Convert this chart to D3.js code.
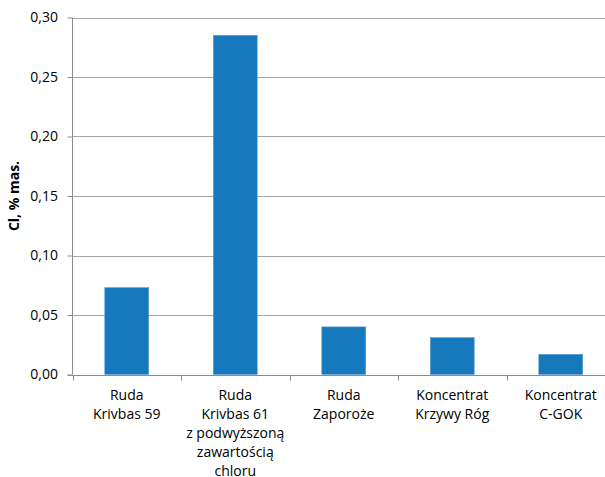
<!DOCTYPE html>
<html>
<head>
<meta charset="utf-8">
<script src="https://cdn.jsdelivr.net/npm/d3@7"></script>
<style>
  body { margin: 0; background: #fff; }
  text { font-family: "Open Sans", sans-serif; fill: #000; }
</style>
</head>
<body>
<div id="chart"></div>
<script>
'use strict'

// dane
const categories = [
    ["Ruda", "Krivbas 59"],
    ["Ruda", "Krivbas 61", "z podwyższoną", "zawartością", "chloru"],
    ["Ruda", "Zaporoże"],
    ["Koncentrat", "Krzywy Róg"],
    ["Koncentrat", "C-GOK"]
];
const values = [0.073, 0.285, 0.040, 0.031, 0.017];
const yTicks = [0, 0.05, 0.10, 0.15, 0.20, 0.25, 0.30];
const yTitle = "Cl, % mas.";

const width = 605;
const height = 477;
const mLeft = 72.5, mRight = 615, mTop = 17.5, mBottom = 374.5;

const svg = d3.select("#chart")
    .append("svg")
    .attr("width", width)
    .attr("height", height);

const xScale = d3.scaleBand()
    .domain(d3.range(categories.length))
    .range([mLeft, mRight])
    .padding(0);

const yScale = d3.scaleLinear()
    .domain([0, 0.30])
    .range([mBottom, mTop]);

// linie siatki
svg.append("g")
    .selectAll("line")
    .data(yTicks.slice(1))
    .enter()
    .append("line")
    .attr("x1", mLeft)
    .attr("x2", mRight)
    .attr("y1", d => Math.round(yScale(d)) + 0.5)
    .attr("y2", d => Math.round(yScale(d)) + 0.5)
    .attr("stroke", "#a6a6a6")
    .attr("stroke-width", 1);

// słupki
const barW = xScale.bandwidth() * 0.405;
svg.append("g")
    .selectAll("rect")
    .data(values)
    .enter()
    .append("rect")
    .attr("x", (d, i) => xScale(i) + xScale.bandwidth() / 2 - barW / 2)
    .attr("y", d => yScale(d))
    .attr("width", barW)
    .attr("height", d => yScale(0) - yScale(d))
    .attr("fill", "#1679bd")
    .attr("stroke", "#5f9fd1")
    .attr("stroke-width", 0.6);

// oś Y
const yAxis = svg.append("g")
    .attr("transform", `translate(${mLeft},0)`)
    .call(d3.axisLeft(yScale)
        .tickValues(yTicks)
        .tickSize(5)
        .tickPadding(9.5)
        .tickFormat(d => d3.format(".2f")(d).replace(".", ",")));
yAxis.select(".domain").attr("stroke", "#8c8c8c").attr("d", `M0,${mTop}V${mBottom}`);
yAxis.selectAll(".tick line").attr("stroke", "#8c8c8c");
yAxis.selectAll("text")
    .style("font-size", "14px")
    .attr("fill", "#000");

// oś X
const xAxis = svg.append("g")
    .attr("transform", `translate(0,${Math.round(mBottom) + 0.5})`);
xAxis.append("line")
    .attr("x1", mLeft - 5)
    .attr("x2", mRight)
    .attr("stroke", "#8c8c8c");
xAxis.selectAll(".xtick")
    .data(d3.range(categories.length + 1))
    .enter()
    .append("line")
    .attr("class", "xtick")
    .attr("x1", i => Math.round(i < categories.length ? xScale(i) : mRight) + 0.5)
    .attr("x2", i => Math.round(i < categories.length ? xScale(i) : mRight) + 0.5)
    .attr("y1", 0)
    .attr("y2", 5)
    .attr("stroke", "#8c8c8c");

const labels = xAxis.selectAll(".xlabel")
    .data(categories)
    .enter()
    .append("text")
    .attr("class", "xlabel")
    .attr("text-anchor", "middle")
    .style("font-size", "14px")
    .attr("transform", (d, i) => `translate(${xScale(i) + xScale.bandwidth() / 2}, 24.5)`);

labels.selectAll("tspan")
    .data(d => d)
    .enter()
    .append("tspan")
    .attr("x", 0)
    .attr("y", (d, j) => j * 19)
    .text(d => d);

// tytuł osi Y
svg.append("text")
    .attr("transform", `translate(19, ${(mTop + mBottom) / 2}) rotate(-90)`)
    .attr("text-anchor", "middle")
    .style("font-size", "14px")
    .style("font-weight", "bold")
    .text(yTitle);
</script>
</body>
</html>
